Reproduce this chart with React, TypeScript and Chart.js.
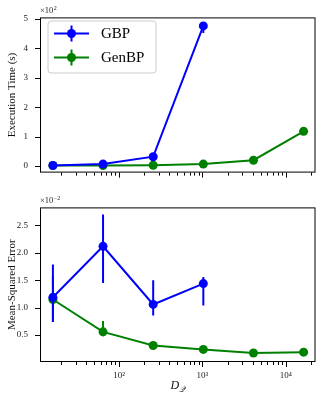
import React, { useEffect, useRef } from "react";
import { Chart, registerables } from "chart.js";
Chart.register(...registerables);

// ---- data ----
const dimsGBP = [16, 64, 256, 1024];
const dimsGen = [16, 64, 256, 1024, 4096, 16384];
// execution time, units of 10^2 s
const gbpTime = [0.02, 0.07, 0.32, 4.76];
const gbpTimeLo = [0.01, 0.05, 0.27, 4.52];
const gbpTimeHi = [0.03, 0.09, 0.37, 4.85];
const genTime = [0.02, 0.02, 0.03, 0.07, 0.2, 1.18];
const genTimeLo = [0.015, 0.015, 0.025, 0.06, 0.18, 1.14];
const genTimeHi = [0.025, 0.025, 0.035, 0.08, 0.22, 1.22];
// mean-squared error, units of 10^-2
const gbpMse = [1.19, 2.12, 1.06, 1.44];
const gbpMseLo = [0.74, 1.45, 0.86, 1.04];
const gbpMseHi = [1.79, 2.7, 1.5, 1.56];
const genMse = [1.15, 0.56, 0.31, 0.24, 0.175, 0.19];
const genMseLo = [0.74, 0.48, 0.29, 0.22, 0.16, 0.17];
const genMseHi = [1.58, 0.76, 0.33, 0.26, 0.19, 0.21];

const xMajor = [100, 1000, 10000];
const xMajorLabels = ["10²", "10³", "10⁴"];
const xMinorMult = [2, 3, 4, 5, 6, 7, 8, 9];
const xMinorDecades = [10, 100, 1000, 10000];
const timeTicks = [0, 1, 2, 3, 4, 5];
const mseTicks = [0.5, 1.0, 1.5, 2.0, 2.5];

const seriesNames = ["GBP", "GenBP"];
const BLUE = "#0000ff";
const GREEN = "#008000";
const SERIF = "'Liberation Serif', 'DejaVu Serif', serif";

const errorBarPlugin = {
  id: "errorBars",
  afterDatasetDraw(chart: any, args: any) {
    const ds: any = chart.data.datasets[args.index];
    if (!ds.errLo) return;
    const { ctx, chartArea } = chart;
    const y = chart.scales.y;
    ctx.save();
    ctx.beginPath();
    ctx.rect(chartArea.left, chartArea.top, chartArea.right - chartArea.left, chartArea.bottom - chartArea.top);
    ctx.clip();
    ctx.strokeStyle = ds.borderColor;
    ctx.lineWidth = 2;
    args.meta.data.forEach((pt: any, i: number) => {
      ctx.beginPath();
      ctx.moveTo(pt.x, y.getPixelForValue(ds.errLo[i]));
      ctx.lineTo(pt.x, y.getPixelForValue(ds.errHi[i]));
      ctx.stroke();
    });
    ctx.restore();
  },
};

const decoPlugin = {
  id: "deco",
  afterDraw(chart: any, _a: any, opts: any) {
    const { ctx, chartArea } = chart;
    const { left, right, top, bottom } = chartArea;
    const xs = chart.scales.x;
    const ys = chart.scales.y;
    ctx.save();
    ctx.strokeStyle = "#000";
    ctx.lineWidth = 1;
    ctx.strokeRect(left + 0.5, top + 0.5, right - left - 1, bottom - top - 1);
    // x ticks
    const xMin = xs.min, xMax = xs.max;
    ctx.beginPath();
    xMajor.forEach((v) => {
      if (v < xMin || v > xMax) return;
      const px = Math.round(xs.getPixelForValue(v)) + 0.5;
      ctx.moveTo(px, bottom);
      ctx.lineTo(px, bottom + 5);
    });
    xMinorDecades.forEach((d) =>
      xMinorMult.forEach((m) => {
        const v = d * m;
        if (v < xMin || v > xMax) return;
        const px = Math.round(xs.getPixelForValue(v)) + 0.5;
        ctx.moveTo(px, bottom);
        ctx.lineTo(px, bottom + 3);
      })
    );
    // y ticks
    (opts.yTicks as number[]).forEach((v) => {
      const py = Math.round(ys.getPixelForValue(v)) + 0.5;
      ctx.moveTo(left - 5, py);
      ctx.lineTo(left, py);
    });
    ctx.stroke();

    // offset text (×10^n)
    ctx.fillStyle = "#222";
    ctx.textBaseline = "alphabetic";
    ctx.textAlign = "left";
    ctx.font = `8.5px ${SERIF}`;
    const base = "×10";
    ctx.fillText(base, left, top - 4);
    const w = ctx.measureText(base).width;
    ctx.font = `6px ${SERIF}`;
    ctx.fillText(opts.exp, left + w + 0.5, top - 7.5);

    // y title
    ctx.save();
    ctx.fillStyle = "#111";
    ctx.font = `11px ${SERIF}`;
    ctx.textAlign = "center";
    ctx.textBaseline = "middle";
    ctx.translate(12, (top + bottom) / 2);
    ctx.rotate(-Math.PI / 2);
    ctx.fillText(opts.yTitle, 0, 0);
    ctx.restore();

    // x title
    if (opts.xTitle) {
      const cx = (left + right) / 2;
      ctx.fillStyle = "#111";
      ctx.textAlign = "left";
      ctx.font = `italic 12px ${SERIF}`;
      const dW = ctx.measureText("D").width;
      ctx.font = `italic 8px ${SERIF}`;
      const sW = ctx.measureText("𝒬").width;
      const x0 = cx - (dW + sW) / 2;
      ctx.font = `italic 12px ${SERIF}`;
      ctx.fillText("D", x0, chart.height - 8);
      ctx.font = `italic 8px ${SERIF}`;
      ctx.fillText("𝒬", x0 + dW, chart.height - 5);
    }

    // legend
    if (opts.legend) {
      const lx = 48, ly = 21, lw = 108, lh = 52, r = 3;
      ctx.beginPath();
      ctx.moveTo(lx + r, ly);
      ctx.arcTo(lx + lw, ly, lx + lw, ly + lh, r);
      ctx.arcTo(lx + lw, ly + lh, lx, ly + lh, r);
      ctx.arcTo(lx, ly + lh, lx, ly, r);
      ctx.arcTo(lx, ly, lx + lw, ly, r);
      ctx.closePath();
      ctx.fillStyle = "rgba(255,255,255,0.8)";
      ctx.fill();
      ctx.strokeStyle = "#cccccc";
      ctx.lineWidth = 1;
      ctx.stroke();
      const cols = [BLUE, GREEN];
      seriesNames.forEach((name, i) => {
        const yy = 33.5 + i * 24;
        ctx.strokeStyle = cols[i];
        ctx.fillStyle = cols[i];
        ctx.lineWidth = 2;
        ctx.beginPath();
        ctx.moveTo(54, yy);
        ctx.lineTo(89, yy);
        ctx.moveTo(71.5, yy - 8);
        ctx.lineTo(71.5, yy + 8);
        ctx.stroke();
        ctx.beginPath();
        ctx.arc(71.5, yy, 4.5, 0, Math.PI * 2);
        ctx.fill();
        ctx.fillStyle = "#000";
        ctx.font = `15px ${SERIF}`;
        ctx.textAlign = "left";
        ctx.textBaseline = "middle";
        ctx.fillText(name, 101, yy + 1);
      });
    }
    ctx.restore();
  },
};

function makeDataset(label: string, xs: number[], ys: number[], lo: number[], hi: number[], color: string) {
  return {
    label,
    data: xs.map((x, i) => ({ x, y: ys[i] })),
    borderColor: color,
    backgroundColor: color,
    pointBackgroundColor: color,
    pointBorderWidth: 0,
    pointRadius: 4.5,
    borderWidth: 2,
    tension: 0,
    errLo: lo,
    errHi: hi,
  } as any;
}

function xScale(showLabels: boolean, height: number) {
  return {
    type: "logarithmic" as const,
    min: 11.2,
    max: 22760,
    grid: { display: false, drawTicks: false },
    border: { display: false },
    afterBuildTicks: (s: any) => {
      s.ticks = xMajor.map((v) => ({ value: v, major: true }));
    },
    afterFit: (s: any) => {
      s.height = height;
    },
    ticks: {
      display: showLabels,
      autoSkip: false,
      maxRotation: 0,
      padding: 8,
      color: "#222",
      font: { family: SERIF, size: 9 },
      callback: (v: any) => {
        const idx = xMajor.indexOf(Number(v));
        return idx >= 0 ? xMajorLabels[idx] : "";
      },
    },
  };
}

function yScale(min: number, max: number, ticks: number[], fmt: (v: number) => string) {
  return {
    type: "linear" as const,
    min,
    max,
    grid: { display: false, drawTicks: false },
    border: { display: false },
    afterBuildTicks: (s: any) => {
      s.ticks = ticks.map((v) => ({ value: v }));
    },
    afterFit: (s: any) => {
      s.width = 40;
    },
    ticks: {
      padding: 12,
      color: "#222",
      font: { family: SERIF, size: 9 },
      callback: (v: any) => fmt(Number(v)),
    },
  };
}

export default function App() {
  const topRef = useRef<HTMLCanvasElement>(null);
  const botRef = useRef<HTMLCanvasElement>(null);

  useEffect(() => {
    const top = new Chart(topRef.current!, {
      type: "line",
      data: {
        datasets: [
          makeDataset(seriesNames[0], dimsGBP, gbpTime, gbpTimeLo, gbpTimeHi, BLUE),
          makeDataset(seriesNames[1], dimsGen, genTime, genTimeLo, genTimeHi, GREEN),
        ],
      },
      options: {
        animation: false,
        responsive: false,
        devicePixelRatio: 1,
        layout: { padding: { top: 14, right: 2, left: 0, bottom: 0 } },
        plugins: {
          legend: { display: false },
          tooltip: { enabled: false },
          deco: { yTicks: timeTicks, exp: "2", yTitle: "Execution Time (s)", legend: true, xTitle: false },
        } as any,
        scales: {
          x: xScale(false, 16),
          y: yScale(-0.22, 5.05, timeTicks, (v) => String(v)),
        },
      },
      plugins: [errorBarPlugin, decoPlugin],
    });
    const bot = new Chart(botRef.current!, {
      type: "line",
      data: {
        datasets: [
          makeDataset(seriesNames[0], dimsGBP, gbpMse, gbpMseLo, gbpMseHi, BLUE),
          makeDataset(seriesNames[1], dimsGen, genMse, genMseLo, genMseHi, GREEN),
        ],
      },
      options: {
        animation: false,
        responsive: false,
        devicePixelRatio: 1,
        layout: { padding: { top: 10, right: 2, left: 0, bottom: 0 } },
        plugins: {
          legend: { display: false },
          tooltip: { enabled: false },
          deco: { yTicks: mseTicks, exp: "−2", yTitle: "Mean-Squared Error", legend: false, xTitle: true },
        } as any,
        scales: {
          x: xScale(true, 35),
          y: yScale(0.01, 2.83, mseTicks, (v) => v.toFixed(1)),
        },
      },
      plugins: [errorBarPlugin, decoPlugin],
    });
    return () => {
      top.destroy();
      bot.destroy();
    };
  }, []);

  return (
    <div style={{ position: "fixed", left: 0, top: 0, width: 320, height: 397, background: "#fff" }}>
      <canvas ref={topRef} width={320} height={190} style={{ position: "absolute", left: 0, top: 0 }} />
      <canvas ref={botRef} width={320} height={207} style={{ position: "absolute", left: 0, top: 190 }} />
    </div>
  );
}
